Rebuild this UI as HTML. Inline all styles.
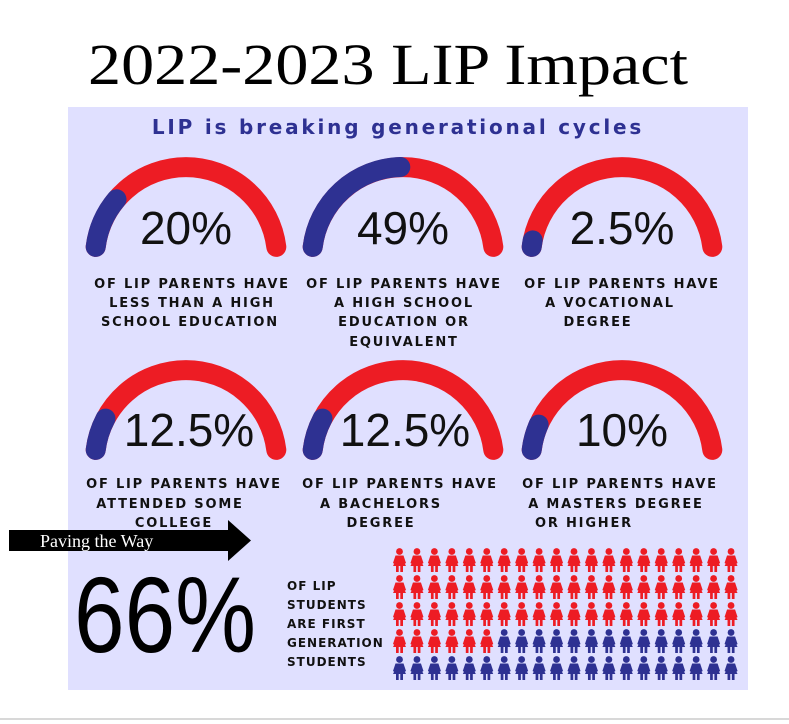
<!DOCTYPE html>
<html><head><meta charset="utf-8"><style>
html,body{margin:0;padding:0;background:#fff;}
svg{display:block;}
.t{font-family:"DejaVu Sans","Liberation Sans",sans-serif;font-weight:bold;font-size:13px;fill:#111;letter-spacing:1.8px;text-anchor:middle;}
.p{font-family:"Liberation Sans",sans-serif;font-size:46px;fill:#111;text-anchor:middle;}
</style></head><body>
<svg width="789" height="724" viewBox="0 0 789 724">
<defs>
<g id="pf">
<circle cx="0" cy="-8.5" r="3.4"/>
<path d="M-4,-4.5 L4,-4.5 L6.5,3 L5,4 L3.5,0 L6.5,6 L3.5,6 L3.5,12 L0.8,12 L0.8,6 L-0.8,6 L-0.8,12 L-3.5,12 L-3.5,6 L-6.5,6 L-3.5,0 L-5,4 L-6.5,3 Z"/>
</g>
</defs>
<rect x="0" y="0" width="789" height="724" fill="#fff"/>
<line x1="0" y1="719" x2="789" y2="719" stroke="#ccc" stroke-width="1.5"/>
<text x="388" y="84" font-family="'Liberation Serif',serif" font-size="58" text-anchor="middle" fill="#000" textLength="600" lengthAdjust="spacingAndGlyphs">2022-2023 LIP Impact</text>
<rect x="68" y="107" width="680" height="583" fill="#e0e0ff"/>
<text x="398" y="134" font-family="'DejaVu Sans','Liberation Sans',sans-serif" font-weight="bold" font-size="20" fill="#2e3192" text-anchor="middle" letter-spacing="2.8">LIP is breaking generational cycles</text>

<g fill="none" stroke-width="20" stroke-linecap="round">
<path d="M95.7,246.9 A91,91 0 0 1 276.3,246.9" stroke="#ed1c24"/>
<path d="M95.7,246.9 A91,91 0 0 1 116.5,199.3" stroke="#2e3192"/>
<path d="M312.7,246.9 A91,91 0 0 1 493.3,246.9" stroke="#ed1c24"/>
<path d="M312.7,246.9 A91,91 0 0 1 400.3,167" stroke="#2e3192"/>
<path d="M531.7,246.9 A91,91 0 0 1 712.3,246.9" stroke="#ed1c24"/>
<path d="M531.7,246.9 A91,91 0 0 1 532.7,240.4" stroke="#2e3192"/>
<path d="M95.7,449.9 A91,91 0 0 1 276.3,449.9" stroke="#ed1c24"/>
<path d="M95.7,449.9 A91,91 0 0 1 105.5,418.6" stroke="#2e3192"/>
<path d="M312.7,449.9 A91,91 0 0 1 493.3,449.9" stroke="#ed1c24"/>
<path d="M312.7,449.9 A91,91 0 0 1 322.5,418.6" stroke="#2e3192"/>
<path d="M531.7,449.9 A91,91 0 0 1 712.3,449.9" stroke="#ed1c24"/>
<path d="M531.7,449.9 A91,91 0 0 1 538.6,424.6" stroke="#2e3192"/>
</g>
<text class="p" x="186" y="244">20%</text>
<text class="p" x="403" y="244">49%</text>
<text class="p" x="622" y="244">2.5%</text>
<text class="p" x="189" y="446">12.5%</text>
<text class="p" x="405" y="446">12.5%</text>
<text class="p" x="622" y="446">10%</text>

<text class="t" x="192" y="288">OF LIP PARENTS HAVE</text>
<text class="t" x="192" y="307">LESS THAN A HIGH</text>
<text class="t" x="190" y="326">SCHOOL EDUCATION</text>
<text class="t" x="404" y="288">OF LIP PARENTS HAVE</text>
<text class="t" x="404" y="307">A HIGH SCHOOL</text>
<text class="t" x="404" y="326">EDUCATION OR</text>
<text class="t" x="404" y="346">EQUIVALENT</text>
<text class="t" x="622" y="288">OF LIP PARENTS HAVE</text>
<text class="t" x="610" y="307">A VOCATIONAL</text>
<text class="t" x="598" y="326">DEGREE</text>
<text class="t" x="184" y="488">OF LIP PARENTS HAVE</text>
<text class="t" x="170" y="508">ATTENDED SOME</text>
<text class="t" x="174" y="527">COLLEGE</text>
<text class="t" x="400" y="488">OF LIP PARENTS HAVE</text>
<text class="t" x="381" y="508">A BACHELORS</text>
<text class="t" x="381" y="527">DEGREE</text>
<text class="t" x="620" y="488">OF LIP PARENTS HAVE</text>
<text class="t" x="616" y="508">A MASTERS DEGREE</text>
<text class="t" x="584" y="527">OR HIGHER</text>

<rect x="9" y="530" width="221" height="21" fill="#000"/>
<polygon points="228,520 251,540.5 228,561" fill="#000"/>
<text x="40" y="547" font-family="'Liberation Serif',serif" font-size="18" fill="#fff">Paving the Way</text>

<text x="74" y="652" font-family="'Liberation Sans',sans-serif" font-size="108" fill="#000" textLength="182" lengthAdjust="spacingAndGlyphs">66%</text>
<g font-family="'DejaVu Sans','Liberation Sans',sans-serif" font-weight="bold" font-size="12" fill="#111" letter-spacing="1">
<text x="287" y="590">OF LIP</text>
<text x="287" y="609">STUDENTS</text>
<text x="287" y="628">ARE FIRST</text>
<text x="287" y="647">GENERATION</text>
<text x="287" y="666">STUDENTS</text>
</g>

<g id="grid"></g>
</svg>
<script>
var g=document.getElementById('grid'),ns='http://www.w3.org/2000/svg';
for(var r=0;r<5;r++)for(var c=0;c<20;c++){
var n=r*20+c;var u=document.createElementNS(ns,'use');
u.setAttribute('href','#pf');
u.setAttribute('transform','translate('+(399.5+c*17.45)+','+(560+r*27)+')');
u.setAttribute('fill',n<66?'#ed1c24':'#2e3192');g.appendChild(u);}
</script>
</body></html>
